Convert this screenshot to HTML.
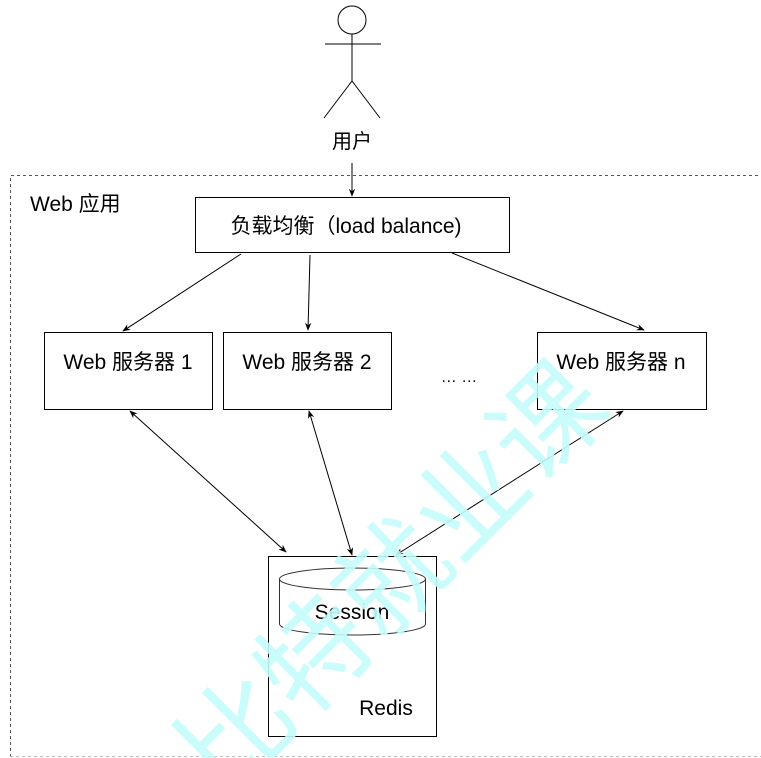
<!DOCTYPE html>
<html><head><meta charset="utf-8"><style>
html,body{margin:0;padding:0;background:#fff;width:761px;height:758px;overflow:hidden}
svg{display:block}
text{font-family:"Liberation Sans","Noto Sans CJK SC",sans-serif;fill:#000}
</style></head><body>
<svg width="761" height="758" viewBox="0 0 761 758" xmlns="http://www.w3.org/2000/svg" style="overflow:hidden">
<defs>
<marker id="a" viewBox="0 0 10 10" refX="9" refY="5" markerWidth="8" markerHeight="8" orient="auto-start-reverse" markerUnits="userSpaceOnUse">
<path d="M0,1 L10,5 L0,9 L3,5 z" fill="#000"/></marker>
<clipPath id="c"><rect x="0" y="0" width="761" height="758"/></clipPath>
</defs>
<path d="M10.5,757 L10.5,175.5 L761,175.5" fill="none" stroke="#555" stroke-dasharray="3,3"/>
<line x1="10" y1="756.5" x2="761" y2="756.5" stroke="#bbb" stroke-dasharray="3,3"/>
<circle cx="352" cy="20" r="14" fill="none" stroke="#000"/>
<line x1="352" y1="34" x2="352" y2="81" stroke="#000"/>
<line x1="325" y1="44" x2="381" y2="44" stroke="#000"/>
<line x1="352" y1="81" x2="324" y2="118" stroke="#000"/>
<line x1="352" y1="81" x2="380" y2="118" stroke="#000"/>
<text x="352" y="148" font-size="20" text-anchor="middle">用户</text>
<line x1="352" y1="163" x2="352" y2="196" stroke="#000" marker-end="url(#a)"/>
<text x="30" y="211" font-size="21">Web 应用</text>
<rect x="195.5" y="197.5" width="314" height="55" fill="#fff" stroke="#000"/>
<text x="346" y="233" font-size="21" text-anchor="middle">负载均衡（load balance)</text>
<line x1="241" y1="254" x2="123" y2="331" stroke="#000" marker-end="url(#a)"/>
<line x1="310" y1="255" x2="308" y2="330" stroke="#000" marker-end="url(#a)"/>
<line x1="452" y1="253" x2="644" y2="330" stroke="#000" marker-end="url(#a)"/>
<rect x="44.5" y="332.5" width="168" height="77" fill="#fff" stroke="#000"/>
<rect x="223.5" y="332.5" width="168" height="77" fill="#fff" stroke="#000"/>
<rect x="537.5" y="332.5" width="169" height="77" fill="#fff" stroke="#000"/>
<text x="128" y="369" font-size="21" text-anchor="middle">Web 服务器 1</text>
<text x="307" y="369" font-size="21" text-anchor="middle">Web 服务器 2</text>
<text x="621" y="369" font-size="21" text-anchor="middle">Web 服务器 n</text>
<text x="459" y="382" font-size="16" text-anchor="middle">… …</text>
<line x1="130" y1="411" x2="286" y2="552" stroke="#000" marker-start="url(#a)" marker-end="url(#a)"/>
<line x1="309" y1="411" x2="352" y2="555" stroke="#000" marker-start="url(#a)" marker-end="url(#a)"/>
<line x1="623" y1="411" x2="396" y2="555" stroke="#000" marker-start="url(#a)" marker-end="url(#a)"/>
<rect x="268.5" y="556.5" width="168" height="180" fill="#fff" stroke="#000"/>
<path d="M279.5,579 L279.5,624 A73,11 0 0 0 425.5,624 L425.5,579" fill="#fff" stroke="#333"/>
<ellipse cx="352.5" cy="579" rx="73" ry="11" fill="#fff" stroke="#333"/>
<text x="352" y="619" font-size="21" text-anchor="middle">Session</text>
<text x="386" y="715" font-size="21" text-anchor="middle">Redis</text>
<g clip-path="url(#c)">
<text x="395" y="615" font-size="110" text-anchor="middle" transform="rotate(-45 395 580)" style="fill:#c6fcfc" opacity="0.9">比特就业课</text>
</g>
</svg>
</body></html>
